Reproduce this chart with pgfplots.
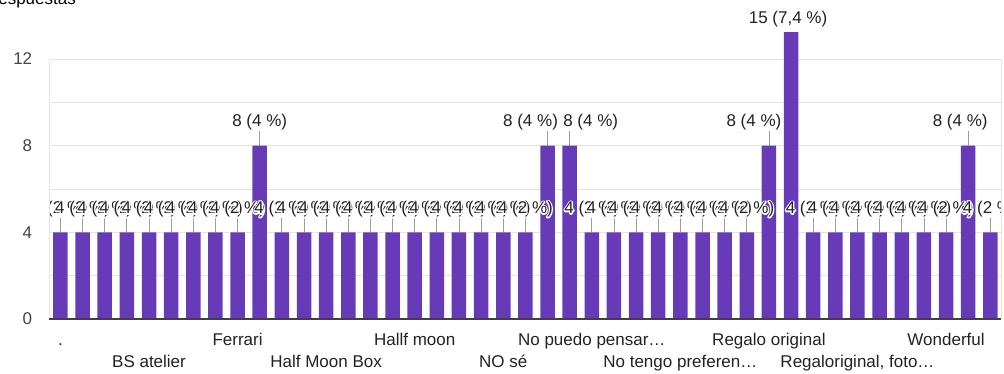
\documentclass[border=0pt]{standalone}
\usepackage{fontspec}
\setmainfont{Liberation Sans}
\usepackage{pgfplots}
\pgfplotsset{compat=1.18}
\usepackage{pgfplotstable}

\definecolor{barpurple}{HTML}{673AB7}
\definecolor{gridgray}{HTML}{E4E4E4}
\definecolor{leadgray}{HTML}{9E9E9E}
\definecolor{labelgray}{HTML}{222222}
\definecolor{tickgray}{HTML}{444444}
\newcommand\lblfont{\fontsize{17}{20}\selectfont}
% text with a thin white outline: stroked once in white, then filled
\newcommand\halotext[1]{\leavevmode\rlap{\special{pdf:literal direct 1 Tr 2.6 w 1 1 1 RG 1 j}#1\special{pdf:literal direct 0 Tr}}#1}

% responses per answer: position, count, label offset (pt), label text
\pgfplotstableread[col sep=semicolon]{
x;y;dx;lab
0;4;0;4 (2 \%)
1;4;0;4 (2 \%)
2;4;0;4 (2 \%)
3;4;0;4 (2 \%)
4;4;0;4 (2 \%)
5;4;0;4 (2 \%)
6;4;0;4 (2 \%)
7;4;0;4 (2 \%)
8;4;0;4 (2 \%)
9;8;0;8 (4 \%)
10;4;0;4 (2 \%)
11;4;0;4 (2 \%)
12;4;0;4 (2 \%)
13;4;0;4 (2 \%)
14;4;0;4 (2 \%)
15;4;0;4 (2 \%)
16;4;0;4 (2 \%)
17;4;0;4 (2 \%)
18;4;0;4 (2 \%)
19;4;0;4 (2 \%)
20;4;0;4 (2 \%)
21;4;0;4 (2 \%)
22;8;-17;8 (4 \%)
23;8;21;8 (4 \%)
24;4;0;4 (2 \%)
25;4;0;4 (2 \%)
26;4;0;4 (2 \%)
27;4;0;4 (2 \%)
28;4;0;4 (2 \%)
29;4;0;4 (2 \%)
30;4;0;4 (2 \%)
31;4;0;4 (2 \%)
32;8;-15;8 (4 \%)
33;15;-3;15 (7,4 \%)
34;4;0;4 (2 \%)
35;4;0;4 (2 \%)
36;4;0;4 (2 \%)
37;4;0;4 (2 \%)
38;4;0;4 (2 \%)
39;4;0;4 (2 \%)
40;4;0;4 (2 \%)
41;8;-8;8 (4 \%)
42;4;0;4 (2 \%)
}\responses

\begin{document}
\begin{tikzpicture}[x=1pt,y=1pt]
\useasboundingbox (0,0) rectangle (1004,374);
\begin{axis}[
  at={(49.4pt,55pt)}, anchor=south west,
  scale only axis, width=952pt, height=286pt,
  xmin=-0.5, xmax=42.5, ymin=0, ymax=13.2,
  enlargelimits=false,
  axis line style={draw=none},
  major tick length=0pt, minor tick length=0pt,
  font=\lblfont,
  /pgf/number format/assume math mode=true,
  ytick={0,2,...,12}, yticklabels={0,,4,,8,,12},
  ymajorgrids, grid style={gridgray, line width=0.8pt},
  yticklabel style={anchor=east, inner sep=0pt, xshift=-17pt, text=tickgray, font=\lblfont},
  xtick={0,8,...,40},
  xticklabels={., Ferrari, Hallf moon, No puedo pensar…, Regalo original, Wonderful},
  extra x ticks={4,12,...,36},
  extra x tick labels={BS atelier, Half Moon Box, NO sé, No tengo preferen…, {Regaloriginal, foto…}},
  xticklabel style={anchor=base, inner sep=0pt, yshift=-27pt, text=labelgray, font=\lblfont},
  extra x tick style={xticklabel style={yshift=-22pt}},
  clip marker paths=true,
]
% bars
\addplot[ybar, bar width=14.5pt, bar shift=0pt, fill=barpurple, draw=none]
  table[x=x, y=y] {\responses};
% leader lines from each bar top to its label
\addplot[draw=none, mark=none, x filter/.expression={x==33 ? nan : x},
  error bars/.cd, y dir=plus, y fixed=0.67, error mark=none,
  error bar style={draw=leadgray, line width=0.8pt}]
  table[x=x, y=y] {\responses};
% value labels with a white halo
\addplot[only marks, mark=*, mark size=0pt, mark options={draw=none, fill=none},
  x filter/.expression={x==33 ? nan : x},
  point meta=explicit symbolic,
  visualization depends on={\thisrow{dx} \as \labdx},
  nodes near coords={\halotext{\pgfplotspointmeta}},
  every node near coord/.append style={anchor=base, yshift=18.7pt, xshift=\labdx pt,
    inner sep=0pt, text=labelgray, font=\lblfont}]
  table[x=x, y=y, meta=lab] {\responses};
\coordinate (ll) at (axis cs:-0.5,0);
\coordinate (tl) at (axis cs:-0.5,12);
\coordinate (lr) at (axis cs:42.5,0);
\coordinate (tr) at (axis cs:42.5,12);
\coordinate (top15) at (axis cs:33,13.2);
\end{axis}
\draw[gridgray, line width=0.8pt] (ll) -- (tl) (lr) -- (tr);
\draw[black!75, line width=1.3pt] (ll) -- (lr);
\node[anchor=base, inner sep=0pt, text=labelgray, font=\lblfont]
  at ([xshift=-3pt, yshift=9.5pt]top15) {15 (7,4 \%)};
\node[anchor=base east, inner sep=0pt, text=black, font=\lblfont]
  at (76,369.5) {Respuestas};
\end{tikzpicture}
\end{document}
